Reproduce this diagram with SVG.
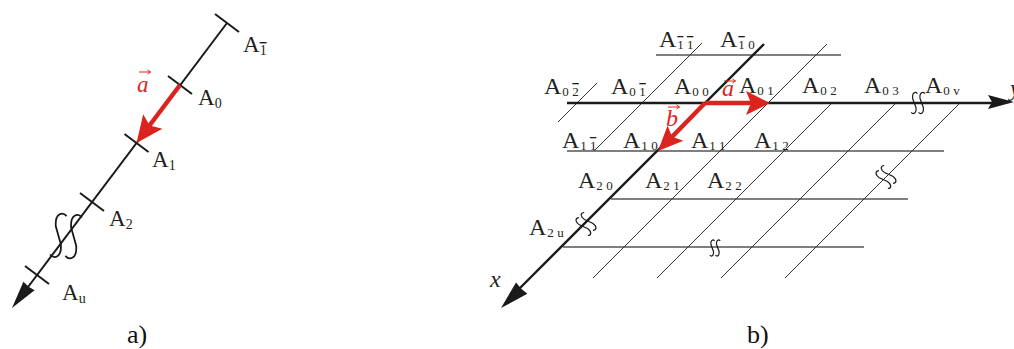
<svg xmlns="http://www.w3.org/2000/svg" width="1014" height="349" viewBox="0 0 1014 349">
<style>
.ax{stroke:#1a1a1a;stroke-width:2;fill:none}
.axb{stroke:#1a1a1a;stroke-width:2.4;fill:none}
.grid{stroke:#333;stroke-width:1;fill:none}
.row{stroke:#555;stroke-width:1.3;fill:none}
.red{stroke:#dc241f;stroke-width:4.5;fill:none}
.redf{fill:#dc241f;stroke:none}
.blk{fill:#1a1a1a;stroke:none}
.vec{stroke:#dc241f;stroke-width:1;fill:none}
.brk{stroke:#1a1a1a;fill:none;stroke-width:1.2}
.lbl{font-family:"Liberation Serif","Times New Roman",serif;font-size:23px;fill:#231f20}
.lb{font-size:24px}
.sub{font-size:13px}
.suba{font-size:14px}
.ov{text-decoration:overline}
.it{font-style:italic}
.rt{fill:#dc241f}
.cap{font-family:"Liberation Serif","Times New Roman",serif;font-size:26px;fill:#111}
</style>
<defs>
<path id="brkp" d="M -0.5,-9 C -2.5,-11 -6,-10 -5,-4 L -2,4 C -1,10 -4.5,11 -6.5,9 M 6.5,-9 C 4.5,-11 1,-10 2,-4 L 5,4 C 6,10 2.5,11 0.5,9" vector-effect="non-scaling-stroke"/>
</defs>

<g id="connectors">
  <!-- (a) axis -->
  <line class="ax" x1="227" y1="23" x2="22" y2="295"/>
  <line class="ax" x1="215" y1="14" x2="239" y2="32"/>
  <line class="ax" x1="168" y1="76" x2="192" y2="94"/>
  <line class="ax" x1="124.5" y1="134" x2="148.5" y2="152"/>
  <line class="ax" x1="80" y1="193" x2="104" y2="211"/>
  <line class="ax" x1="25" y1="266" x2="49" y2="284"/>
  <polygon class="blk" points="12,308 23.4,281.8 29,287 34.6,290.2"/>
  <line class="red" x1="180" y1="85" x2="148" y2="127.5"/>
  <polygon class="redf" points="136.5,143 143.2,114.3 149.7,125.4 162.4,128.7"/>
  <use href="#brkp" class="brk" transform="translate(66,236) rotate(5) scale(2.2)" style="stroke-width:1.8"/>

  <!-- (b) horizontal rows -->
  <line class="row" x1="656" y1="55" x2="841" y2="55"/>
  <line class="row" x1="567" y1="151" x2="944" y2="151"/>
  <line class="row" x1="611" y1="199" x2="908" y2="199"/>
  <line class="row" x1="563" y1="247" x2="864" y2="247"/>
  <!-- (b) diagonal columns -->
  <line class="grid" x1="597" y1="83" x2="558" y2="122"/>
  <line class="grid" x1="702" y1="43" x2="594" y2="151"/>
  <line class="grid" x1="827" y1="44" x2="593" y2="278"/>
  <line class="grid" x1="832" y1="103" x2="657" y2="278"/>
  <line class="grid" x1="896" y1="103" x2="721" y2="278"/>
  <line class="grid" x1="960" y1="103" x2="785" y2="278"/>
  <!-- (b) axes -->
  <line class="axb" x1="567" y1="103" x2="992" y2="103"/>
  <polygon class="blk" points="1014,102 988,95 992,102 988,109"/>
  <line class="axb" x1="764" y1="44" x2="518" y2="290"/>
  <polygon class="blk" points="501,308 516,282.5 521.5,289 527.4,293.7"/>
  <!-- break marks -->
  <use href="#brkp" class="brk" transform="translate(918,103) scale(1.05)"/>
  <use href="#brkp" class="brk" transform="translate(886,177) rotate(-45) scale(1.05)"/>
  <use href="#brkp" class="brk" transform="translate(715,248) scale(0.8)"/>
  <use href="#brkp" class="brk" transform="translate(586,224) rotate(-45) scale(1.05)"/>
  <!-- (b) red vectors -->
  <line class="red" x1="705" y1="103" x2="752" y2="103"/>
  <polygon class="redf" points="770,103 746,91 751,103 746,115"/>
  <line class="red" x1="705" y1="103" x2="670" y2="139"/>
  <polygon class="redf" points="658,151 667.6,125.4 672,136.7 683.4,140.8"/>
</g>

<g id="labels-a">
  <g id="a-Am1"><text class="lbl" x="243" y="52">A<tspan class="suba ov" dy="3">1</tspan></text></g>
  <g id="a-A0"><text class="lbl" x="198" y="105">A<tspan class="suba" dy="3">0</tspan></text></g>
  <g id="a-A1"><text class="lbl" x="152" y="167">A<tspan class="suba" dy="3">1</tspan></text></g>
  <g id="a-A2"><text class="lbl" x="109" y="226">A<tspan class="suba" dy="3">2</tspan></text></g>
  <g id="a-Au"><text class="lbl" x="62" y="300">A<tspan class="suba" dy="3">u</tspan></text></g>
  <g id="a-vec"><text class="lbl it rt" x="137" y="92">a</text><path class="vec" d="M139,72 H150.5 M147.5,70 L150.5,72 L147.5,74"/></g>
  <g id="cap-a"><text class="cap" x="127" y="343">a)</text></g>
</g>

<g id="labels-b">
  <g id="b-Am1m1"><text class="lbl lb" x="659" y="47">A<tspan class="sub ov" dy="2" dx="1">1</tspan><tspan class="sub ov" dx="3.5">1</tspan></text></g>
  <g id="b-Am10"><text class="lbl lb" x="720" y="47">A<tspan class="sub ov" dy="2" dx="1">1</tspan><tspan class="sub" dx="3.5">0</tspan></text></g>
  <g id="b-A0m2"><text class="lbl lb" x="544" y="94">A<tspan class="sub" dy="2" dx="1">0</tspan><tspan class="sub ov" dx="3.5">2</tspan></text></g>
  <g id="b-A0m1"><text class="lbl lb" x="611" y="94">A<tspan class="sub" dy="2" dx="1">0</tspan><tspan class="sub ov" dx="3.5">1</tspan></text></g>
  <g id="b-A00"><text class="lbl lb" x="674" y="94">A<tspan class="sub" dy="2" dx="1">0</tspan><tspan class="sub" dx="3.5">0</tspan></text></g>
  <g id="b-A01"><text class="lbl lb" x="739" y="93">A<tspan class="sub" dy="2" dx="1">0</tspan><tspan class="sub" dx="3.5">1</tspan></text></g>
  <g id="b-A02"><text class="lbl lb" x="802" y="93">A<tspan class="sub" dy="2" dx="1">0</tspan><tspan class="sub" dx="3.5">2</tspan></text></g>
  <g id="b-A03"><text class="lbl lb" x="864" y="93">A<tspan class="sub" dy="2" dx="1">0</tspan><tspan class="sub" dx="3.5">3</tspan></text></g>
  <g id="b-A0v"><text class="lbl lb" x="925" y="93">A<tspan class="sub" dy="2" dx="1">0</tspan><tspan class="sub" dx="3.5">v</tspan></text></g>
  <g id="b-A1m1"><text class="lbl lb" x="562" y="148">A<tspan class="sub" dy="2" dx="1">1</tspan><tspan class="sub ov" dx="3.5">1</tspan></text></g>
  <g id="b-A10"><text class="lbl lb" x="623" y="148">A<tspan class="sub" dy="2" dx="1">1</tspan><tspan class="sub" dx="3.5">0</tspan></text></g>
  <g id="b-A11"><text class="lbl lb" x="691" y="148">A<tspan class="sub" dy="2" dx="1">1</tspan><tspan class="sub" dx="3.5">1</tspan></text></g>
  <g id="b-A12"><text class="lbl lb" x="754" y="148">A<tspan class="sub" dy="2" dx="1">1</tspan><tspan class="sub" dx="3.5">2</tspan></text></g>
  <g id="b-A20"><text class="lbl lb" x="578" y="188">A<tspan class="sub" dy="2" dx="1">2</tspan><tspan class="sub" dx="3.5">0</tspan></text></g>
  <g id="b-A21"><text class="lbl lb" x="645" y="188">A<tspan class="sub" dy="2" dx="1">2</tspan><tspan class="sub" dx="3.5">1</tspan></text></g>
  <g id="b-A22"><text class="lbl lb" x="707" y="188">A<tspan class="sub" dy="2" dx="1">2</tspan><tspan class="sub" dx="3.5">2</tspan></text></g>
  <g id="b-A2u"><text class="lbl lb" x="529" y="235">A<tspan class="sub" dy="2" dx="1">2</tspan><tspan class="sub" dx="3.5">u</tspan></text></g>
  <g id="b-x"><text class="lbl lb it" x="490" y="287">x</text></g>
  <g id="b-y"><text class="lbl lb it" x="1010" y="96">y</text></g>
  <g id="b-veca"><text class="lbl lb it rt" x="722" y="96">a</text><path class="vec" d="M724,81 H735.5 M732.5,79 L735.5,81 L732.5,83"/></g>
  <g id="b-vecb"><text class="lbl lb it rt" x="666" y="126">b</text><path class="vec" d="M668,107 H679.5 M676.5,105 L679.5,107 L676.5,109"/></g>
  <g id="cap-b"><text class="cap" x="747" y="343">b)</text></g>
</g>
</svg>
